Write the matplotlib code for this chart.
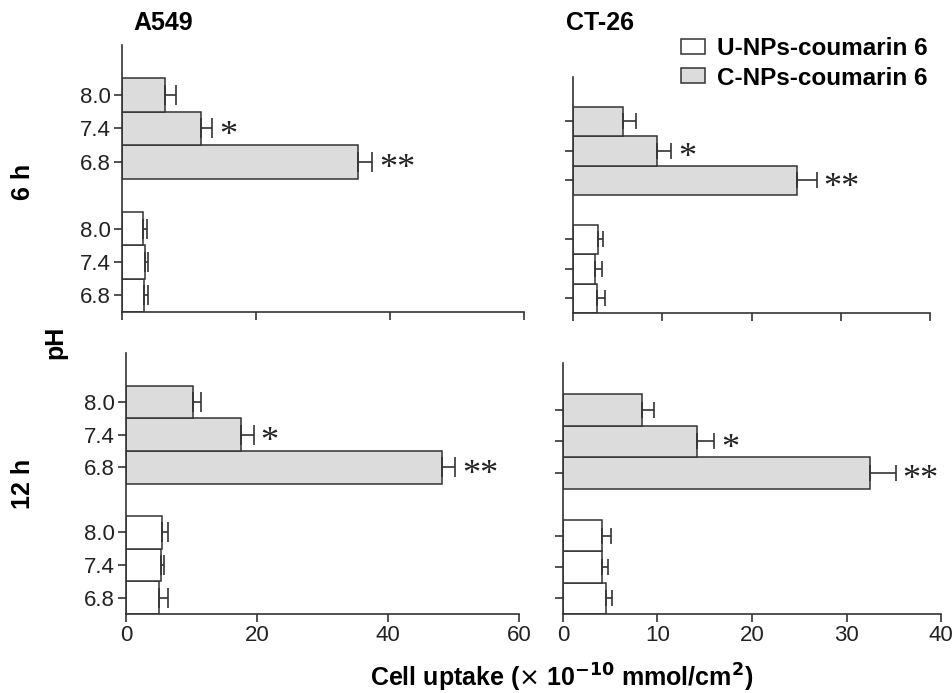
import matplotlib
matplotlib.use('Agg')
from matplotlib import pyplot as plt
from matplotlib.patches import Patch

plt.rcParams['font.family'] = ['Liberation Sans', 'DejaVu Sans']

# pH values, listed bottom to top inside each group
ph_labels = ['6.8', '7.4', '8.0']
stars = ['**', '*', '']

# A549 (cell uptake, x 10^-10 mmol/cm2)
a549_6h_u = [3.3, 3.5, 3.1]
a549_6h_u_err = [0.6, 0.4, 0.7]
a549_6h_c = [35.2, 11.8, 6.4]
a549_6h_c_err = [2.1, 1.7, 1.6]
a549_12h_u = [5.1, 5.3, 5.5]
a549_12h_u_err = [1.3, 0.5, 0.9]
a549_12h_c = [48.2, 17.5, 10.2]
a549_12h_c_err = [2.0, 2.0, 1.3]

# CT-26
ct26_6h_u = [2.7, 2.5, 2.85]
ct26_6h_u_err = [0.9, 0.8, 0.55]
ct26_6h_c = [25.1, 9.4, 5.6]
ct26_6h_c_err = [2.2, 1.6, 1.5]
ct26_12h_u = [4.5, 4.1, 4.15]
ct26_12h_u_err = [0.7, 0.65, 0.95]
ct26_12h_c = [32.5, 14.2, 8.4]
ct26_12h_c_err = [2.7, 1.8, 1.2]

u_pos = [1, 2, 3]
c_pos = [5, 6, 7]

W, H = 953, 693
fig = plt.figure(figsize=(W / 100, H / 100), dpi=100)


def ax_at(x0, x1, ytop, ybot):
    return fig.add_axes([x0 / W, 1 - ybot / H, (x1 - x0) / W, (ybot - ytop) / H])


def panel(ax, u, u_err, c, c_err, xmax, xticks, show_labels, capsize):
    ekw = dict(ecolor='#333333', elinewidth=1.2, capsize=capsize, capthick=1.2)
    ax.barh(u_pos, u, height=1, color='white', edgecolor='#333333', linewidth=1.1,
            xerr=[[0] * 3, u_err], error_kw=ekw)
    ax.barh(c_pos, c, height=1, color='#dcdcdc', edgecolor='#333333', linewidth=1.1,
            xerr=[[0] * 3, c_err], error_kw=ekw)
    for p, v, e, s in zip(c_pos, c, c_err, stars):
        if s:
            ax.annotate(s, xy=(v + e, p), xytext=(5, -12), textcoords='offset points',
                        ha='left', va='baseline', fontsize=26,
                        family=['Liberation Serif'], color='#222222')
    ax.set_xlim(0, xmax)
    ax.set_ylim(0.5, 8.5)
    ax.set_xticks(xticks)
    ax.set_yticks(u_pos + c_pos)
    if show_labels:
        ax.set_yticklabels(ph_labels + ph_labels)
    else:
        ax.set_yticklabels([])
    for s in ['top', 'right']:
        ax.spines[s].set_visible(False)
    for s in ['left', 'bottom']:
        ax.spines[s].set_linewidth(1.2)
        ax.spines[s].set_color('#333333')
    ax.tick_params(axis='both', labelsize=16, length=6, width=1.2, color='#333333',
                   labelcolor='#222222', pad=2)


ax1 = ax_at(122, 524, 45, 312)
panel(ax1, a549_6h_u, a549_6h_u_err, a549_6h_c, a549_6h_c_err, 60, [0, 20, 40, 60], True, 7)
ax1.set_xticklabels([])

ax2 = ax_at(573, 930, 77, 313)
panel(ax2, ct26_6h_u, ct26_6h_u_err, ct26_6h_c, ct26_6h_c_err, 40, [0, 10, 20, 30, 40], False, 6)
ax2.set_xticklabels([])

ax3 = ax_at(126, 519, 353, 614)
panel(ax3, a549_12h_u, a549_12h_u_err, a549_12h_c, a549_12h_c_err, 60, [0, 20, 40, 60], True, 7)

ax4 = ax_at(563, 941, 363, 614)
panel(ax4, ct26_12h_u, ct26_12h_u_err, ct26_12h_c, ct26_12h_c_err, 40, [0, 10, 20, 30, 40], False, 6)

# titles and labels
fig.text(163 / W, 1 - 23 / H, 'A549', ha='center', va='center', fontsize=18, fontweight='bold')
fig.text(600 / W, 1 - 23 / H, 'CT-26', ha='center', va='center', fontsize=18, fontweight='bold')
fig.text(23 / W, 1 - 182 / H, '6 h', ha='center', va='center', rotation=90, fontsize=18, fontweight='bold')
fig.text(23 / W, 1 - 484 / H, '12 h', ha='center', va='center', rotation=90, fontsize=18, fontweight='bold')
fig.text(55 / W, 1 - 342 / H, 'pH', ha='center', va='center', rotation=90, fontsize=18, fontweight='bold')
fig.text(562 / W, 1 - 678 / H, r'Cell uptake ($\times$ 10$^{\mathbf{-10}}$ mmol/cm$^{\mathbf{2}}$)',
         ha='center', va='center', fontsize=18, fontweight='bold')

handles = [Patch(facecolor='white', edgecolor='#333333', linewidth=1.1),
           Patch(facecolor='#dcdcdc', edgecolor='#333333', linewidth=1.1)]
leg = fig.legend(handles, ['U-NPs-coumarin 6', 'C-NPs-coumarin 6'],
                 loc='upper left', bbox_to_anchor=(681 / W, 1 - 37 / H),
                 frameon=False, borderpad=0, borderaxespad=0,
                 handlelength=0.99, handleheight=0.57,
                 handletextpad=0.5, labelspacing=0.27,
                 prop={'size': 17.5, 'weight': 'bold'})

plt.savefig('out.png', dpi=100)
